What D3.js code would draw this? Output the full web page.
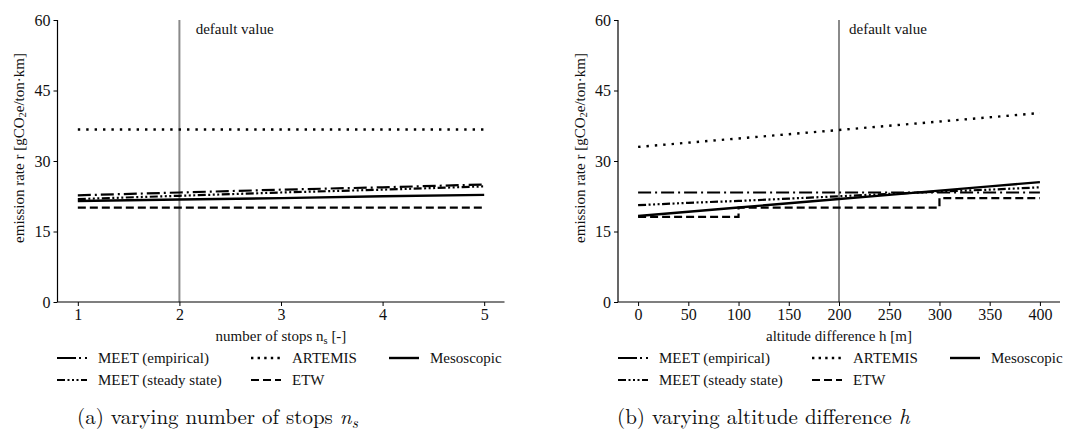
<!DOCTYPE html>
<html>
<head>
<meta charset="utf-8">
<script src="https://cdn.jsdelivr.net/npm/d3@7"></script>
<style>
  html, body { margin: 0; padding: 0; background: #fff; }
  svg { display: block; }
</style>
</head>
<body>
<svg id="chart" width="1086" height="444"></svg>
<script>
// ---------- data ----------
const stops = [1, 2, 3, 4, 5];
const stopsEmpirical = [22.7, 23.3, 23.9, 24.4, 25.0];
const stopsSteady    = [21.9, 22.6, 23.3, 23.9, 24.6];
const stopsArtemis   = [36.7, 36.7, 36.7, 36.7, 36.7];
const stopsEtw       = [20.1, 20.1, 20.1, 20.1, 20.1];
const stopsMeso      = [21.5, 21.8, 22.1, 22.5, 22.8];

const heights = [0, 50, 100, 150, 200, 250, 300, 350, 400];
const altEmpirical = [23.3, 23.3, 23.3, 23.3, 23.3, 23.3, 23.3, 23.3, 23.3];
const altSteady    = [20.6, 21.1, 21.5, 22.0, 22.5, 23.0, 23.5, 23.9, 24.4];
const altArtemis   = [33.0, 33.9, 34.8, 35.7, 36.6, 37.5, 38.4, 39.3, 40.2];
const altMeso      = [18.3, 19.2, 20.1, 21.0, 21.9, 22.8, 23.7, 24.6, 25.5];
const etwHeights   = [0, 100, 100, 300, 300, 400];
const altEtw       = [18.1, 18.1, 20.1, 20.1, 22.1, 22.1];

const stopsTicks = [1, 2, 3, 4, 5];
const heightTicks = [0, 50, 100, 150, 200, 250, 300, 350, 400];
const yTicks = [0, 15, 30, 45, 60];
const seriesNames = ["MEET (empirical)", "ARTEMIS", "Mesoscopic", "MEET (steady state)", "ETW"];

const SERIF = '"Liberation Serif"';
const CM = '"Latin Modern Roman"';

// ---------- styles ----------
const styles = {
  "MEET (empirical)":    { dash: "13 4 2 4", legendDash: "19 3 2 4 2 10", width: 2.2 },
  "MEET (steady state)": { dash: "8 2.5 2 2.5 2 2.5 2 2.5", width: 2.2 },
  "ARTEMIS":             { dash: "2.4 6", legendDash: "2.4 4.2", width: 2.4 },
  "ETW":                 { dash: "8 4", width: 2.2 },
  "Mesoscopic":          { dash: null, width: 2.4 }
};

const svg = d3.select("#chart");

function txt(sel, size, fam) {
  return sel.style("font-family", fam || SERIF).style("font-size", size + "px").style("fill", "#111");
}

function panel(cfg) {
  const g = svg.append("g");
  const x = d3.scaleLinear().domain(cfg.xDomain).range(cfg.xRange);
  const y = d3.scaleLinear().domain([0, 60]).range([302, 20]);

  // default value line
  g.append("line")
    .attr("x1", x(cfg.defaultX)).attr("x2", x(cfg.defaultX))
    .attr("y1", y(60)).attr("y2", y(0))
    .attr("stroke", "#8a8a8a").attr("stroke-width", 2);
  txt(g.append("text").attr("x", x(cfg.defaultTextX)).attr("y", 34), 15).text("default value");

  // series
  const line = d3.line().x(d => x(d[0])).y(d => y(d[1]));
  cfg.series.forEach(s => {
    const st = styles[s.name];
    const pts = s.xs.map((v, i) => [v, s.ys[i]]);
    g.append("path").datum(pts)
      .attr("d", line)
      .attr("fill", "none")
      .attr("stroke", "#000")
      .attr("stroke-width", st.width)
      .attr("stroke-dasharray", st.dash)
      .attr("stroke-linecap", "butt");
  });

  // axes
  const yAxis = d3.axisLeft(y).tickValues(yTicks).tickSize(4).tickPadding(3).tickFormat(d3.format("d"));
  const ya = g.append("g").attr("transform", `translate(${cfg.xRange[0]},0)`).call(yAxis);
  const xAxis = d3.axisBottom(x).tickValues(cfg.xTicks).tickSize(4).tickPadding(3).tickFormat(d3.format("d"));
  const xa = g.append("g").attr("transform", `translate(0,${y(0)})`).call(xAxis);
  [ya, xa].forEach(a => {
    a.select(".domain").attr("stroke", "#000").attr("stroke-width", 1.2);
    a.selectAll(".tick line").attr("stroke", "#000").attr("stroke-width", 1);
    txt(a.selectAll(".tick text"), 16);
  });
  ya.select(".domain").attr("d", `M0,${y(60)}V${y(0)}`);
  xa.select(".domain").attr("d", `M${cfg.xRange[0]},0H${cfg.xRange[1]}`);

  // y label
  const yl = txt(g.append("text")
    .attr("transform", `translate(${cfg.yLabelX},148) rotate(-90)`)
    .attr("text-anchor", "middle").attr("dominant-baseline", "middle"), 15);
  yl.append("tspan").text("emission rate r [gCO");
  yl.append("tspan").style("font-size", "10.5px").attr("dy", 3).text("2");
  yl.append("tspan").attr("dy", -3).text("e/ton·km]");

  // x label
  const xl = txt(g.append("text")
    .attr("x", (cfg.xRange[0] + cfg.xRange[1]) / 2).attr("y", 341)
    .attr("text-anchor", "middle"), 15);
  cfg.xLabel(xl);

  // legend
  const lx = cfg.legendX;
  const rowsY = [358, 380];
  const cols = [
    { name: "MEET (empirical)", c: 0, r: 0 },
    { name: "ARTEMIS", c: 1, r: 0 },
    { name: "Mesoscopic", c: 2, r: 0 },
    { name: "MEET (steady state)", c: 0, r: 1 },
    { name: "ETW", c: 1, r: 1 }
  ];
  const colX = [lx, lx + 194, lx + 332];
  cols.forEach(it => {
    const st = styles[it.name];
    const x0 = colX[it.c], yy = rowsY[it.r];
    g.append("line")
      .attr("x1", x0).attr("x2", x0 + 30).attr("y1", yy).attr("y2", yy)
      .attr("stroke", "#000").attr("stroke-width", st.width)
      .attr("stroke-dasharray", st.legendDash || st.dash);
    txt(g.append("text").attr("x", x0 + 41).attr("y", yy + 5), 15).text(it.name);
  });

  // caption
  const cap = txt(g.append("text").attr("x", cfg.captionX).attr("y", 424), 21, CM);
  cfg.caption(cap);
}

panel({
  xDomain: [0.8, 5.2], xRange: [57.5, 504.5], xTicks: stopsTicks,
  defaultX: 2, defaultTextX: 2.16, yLabelX: 21,
  series: [
    { name: "MEET (empirical)", xs: stops, ys: stopsEmpirical },
    { name: "MEET (steady state)", xs: stops, ys: stopsSteady },
    { name: "ARTEMIS", xs: stops, ys: stopsArtemis },
    { name: "ETW", xs: stops, ys: stopsEtw },
    { name: "Mesoscopic", xs: stops, ys: stopsMeso }
  ],
  xLabel: t => {
    t.append("tspan").text("number of stops n");
    t.append("tspan").style("font-size", "10.5px").attr("dy", 3).text("s");
    t.append("tspan").attr("dy", -3).text(" [-]");
  },
  legendX: 57,
  captionX: 77,
  caption: t => {
    t.append("tspan").text("(a) varying number of stops ");
    t.append("tspan").style("font-style", "italic").text("n");
    t.append("tspan").style("font-style", "italic").style("font-size", "15px").attr("dy", 4).text("s");
  }
});

panel({
  xDomain: [-20, 420], xRange: [618, 1060], xTicks: heightTicks,
  defaultX: 200, defaultTextX: 210, yLabelX: 582,
  series: [
    { name: "MEET (empirical)", xs: heights, ys: altEmpirical },
    { name: "MEET (steady state)", xs: heights, ys: altSteady },
    { name: "ARTEMIS", xs: heights, ys: altArtemis },
    { name: "ETW", xs: etwHeights, ys: altEtw },
    { name: "Mesoscopic", xs: heights, ys: altMeso }
  ],
  xLabel: t => { t.text("altitude difference h [m]"); },
  legendX: 618,
  captionX: 617,
  caption: t => {
    t.append("tspan").text("(b) varying altitude difference ");
    t.append("tspan").style("font-style", "italic").text("h");
  }
});
</script>
</body>
</html>
